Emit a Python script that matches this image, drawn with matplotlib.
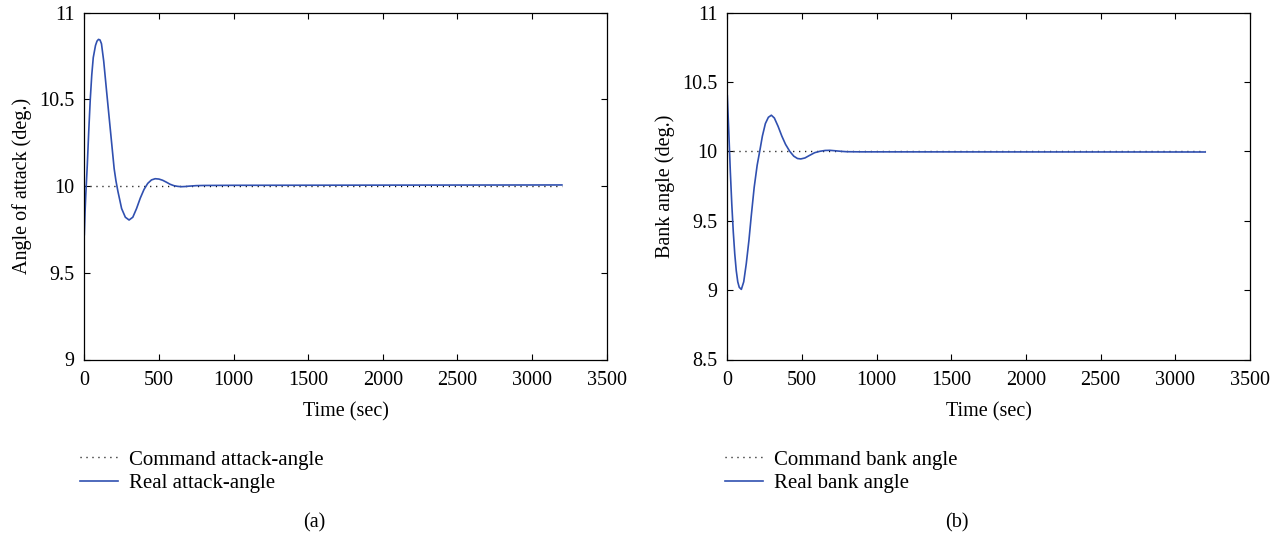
import numpy as np
import matplotlib.pyplot as plt

plt.rcParams['font.family'] = ['Liberation Serif', 'DejaVu Serif']
plt.rcParams['font.size'] = 14.5

# Command signals
cmd_t = [0, 3200]
cmd_alpha = [10, 10]
cmd_bank = [10, 10]

# Real attack angle
alpha_t = [0, 5, 10, 20, 30, 40, 50, 60, 75, 85, 95, 105, 115, 130, 150, 175, 200, 212,
           225, 250, 275, 300, 325, 350, 375, 400, 425, 450, 475, 500, 525, 550,
           575, 600, 625, 650, 675, 700, 750, 800, 1000, 2000, 3200]
alpha_v = [9.72, 9.85, 9.95, 10.12, 10.32, 10.50, 10.64, 10.74, 10.81, 10.835, 10.845,
           10.842, 10.82, 10.72, 10.54, 10.32, 10.10, 10.03, 9.97, 9.87, 9.82, 9.804, 9.82,
           9.87, 9.93, 9.98, 10.015, 10.035, 10.042, 10.04, 10.033, 10.022, 10.01,
           10.002, 9.998, 9.996, 9.997, 9.999, 10.002, 10.003, 10.004, 10.005, 10.006]

# Real bank angle
bank_t = [0, 10, 20, 30, 40, 50, 60, 70, 80, 94, 110, 127, 145, 160, 180, 200, 217,
          235, 255, 275, 295, 315, 340, 365, 390, 418, 445, 470, 492, 520, 550, 585,
          620, 655, 687, 720, 760, 800, 900, 3200]
bank_v = [10.40, 10.14, 9.86, 9.62, 9.42, 9.26, 9.14, 9.06, 9.02, 9.005, 9.06, 9.19,
          9.36, 9.53, 9.74, 9.90, 10.0, 10.11, 10.20, 10.245, 10.26, 10.24, 10.18,
          10.11, 10.05, 10.0, 9.965, 9.948, 9.945, 9.952, 9.97, 9.99, 10.0, 10.006,
          10.007, 10.004, 10.0, 9.997, 9.996, 9.995]

blue = '#3050b0'
W, H = 1284, 537
fig = plt.figure(figsize=(W / 100, H / 100), dpi=100)

panels = [
    dict(left=84.3, right=606.7, t=alpha_t, v=alpha_v, cmd=cmd_alpha, ylim=(9, 11),
         yticks=[9, 9.5, 10, 10.5, 11], ylabel='Angle of attack (deg.)',
         labels=['Command attack-angle', 'Real attack-angle'], leg_x=80, cap='(a)', cap_x=314),
    dict(left=727.3, right=1250, t=bank_t, v=bank_v, cmd=cmd_bank, ylim=(8.5, 11),
         yticks=[8.5, 9, 9.5, 10, 10.5, 11], ylabel='Bank angle (deg.)',
         labels=['Command bank angle', 'Real bank angle'], leg_x=725, cap='(b)', cap_x=957),
]

top, bottom = 12.5, 359.5
for p in panels:
    ax = fig.add_axes([p['left'] / W, 1 - bottom / H, (p['right'] - p['left']) / W,
                       (bottom - top) / H])
    ax.plot(cmd_t, p['cmd'], color='black', linestyle=(0, (0.8, 3.5)), linewidth=1.0,
            label=p['labels'][0])
    ax.plot(p['t'], p['v'], color=blue, linewidth=1.2, label=p['labels'][1])
    ax.set_xlim(0, 3500)
    ax.set_ylim(*p['ylim'])
    ax.set_xticks(np.arange(0, 3501, 500))
    ax.set_yticks(p['yticks'])
    ax.set_yticklabels([('%g' % y) for y in p['yticks']])
    ax.tick_params(direction='in', top=True, right=True, length=4, width=0.8)
    ax.tick_params(axis='x', pad=8)
    ax.tick_params(axis='y', pad=7)
    for s in ax.spines.values():
        s.set_linewidth(0.9)
    ax.set_xlabel('Time (sec)', labelpad=9)
    ax.set_ylabel(p['ylabel'], labelpad=5)
    ax.legend(loc='upper left', bbox_to_anchor=(p['leg_x'] / W, 1 - 450 / H),
              bbox_transform=fig.transFigure, frameon=False, handlelength=1.8,
              handletextpad=0.55, labelspacing=0.18, borderpad=0, borderaxespad=0,
              fontsize=15)
    fig.text(p['cap_x'] / W, 1 - 523 / H, p['cap'], ha='center', va='center', fontsize=14.5)

fig.savefig('out.png', dpi=100)
